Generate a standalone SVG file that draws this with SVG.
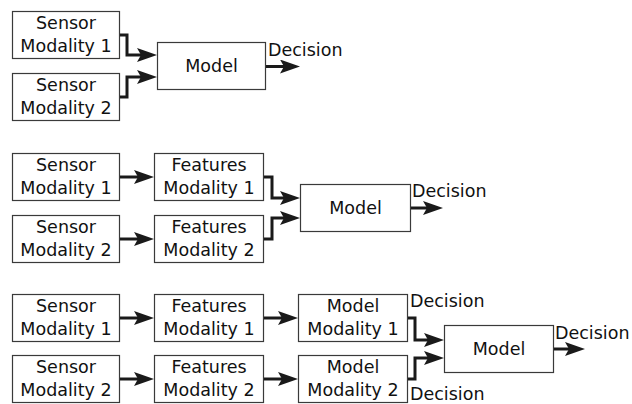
<svg xmlns="http://www.w3.org/2000/svg" width="632" height="404" viewBox="0 0 632 404">
<style>
.box{fill:#fff;stroke:#3a3a3a;stroke-width:1.2}
.t{font-family:"DejaVu Sans",sans-serif;font-size:17.5px;fill:#111;text-anchor:middle}
.lbl{font-family:"DejaVu Sans",sans-serif;font-size:17.5px;fill:#111}
.c{fill:none;stroke:#1a1a1a;stroke-width:3;marker-end:url(#ah)}
</style>
<defs>
<marker id="ah" markerUnits="userSpaceOnUse" viewBox="0 0 20 14" markerWidth="20" markerHeight="14" refX="4" refY="7" orient="auto">
<path d="M0,0 L20,7 L0,14 L4,7 Z" fill="#1a1a1a"/>
</marker>
</defs>
<rect width="632" height="404" fill="#fff"/>
<!-- Section 1 -->
<g id="s1-sensor1"><rect class="box" x="12.5" y="11.5" width="107" height="47"/><text class="t" x="66" y="29">Sensor</text><text class="t" x="66" y="52">Modality 1</text></g>
<g id="s1-sensor2"><rect class="box" x="12.5" y="73.5" width="107" height="47"/><text class="t" x="66" y="91">Sensor</text><text class="t" x="66" y="114">Modality 2</text></g>
<g id="s1-model"><rect class="box" x="157.5" y="42.5" width="108" height="47"/><text class="t" x="211.5" y="72">Model</text></g>
<g id="s1-decision"><text class="lbl" x="268" y="56">Decision</text></g>
<!-- Section 2 -->
<g id="s2-sensor1"><rect class="box" x="12.5" y="153.5" width="107" height="47"/><text class="t" x="66" y="171">Sensor</text><text class="t" x="66" y="194">Modality 1</text></g>
<g id="s2-sensor2"><rect class="box" x="12.5" y="215.5" width="107" height="47"/><text class="t" x="66" y="233">Sensor</text><text class="t" x="66" y="256">Modality 2</text></g>
<g id="s2-features1"><rect class="box" x="154.5" y="153.5" width="109" height="47"/><text class="t" x="209" y="171">Features</text><text class="t" x="209" y="194">Modality 1</text></g>
<g id="s2-features2"><rect class="box" x="154.5" y="215.5" width="109" height="47"/><text class="t" x="209" y="233">Features</text><text class="t" x="209" y="256">Modality 2</text></g>
<g id="s2-model"><rect class="box" x="300.5" y="184.5" width="110" height="47"/><text class="t" x="355.5" y="214">Model</text></g>
<g id="s2-decision"><text class="lbl" x="412" y="197">Decision</text></g>
<!-- Section 3 -->
<g id="s3-sensor1"><rect class="box" x="12.5" y="294.5" width="107" height="47"/><text class="t" x="66" y="312">Sensor</text><text class="t" x="66" y="335">Modality 1</text></g>
<g id="s3-sensor2"><rect class="box" x="12.5" y="355.5" width="107" height="47"/><text class="t" x="66" y="373">Sensor</text><text class="t" x="66" y="396">Modality 2</text></g>
<g id="s3-features1"><rect class="box" x="154.5" y="294.5" width="109" height="47"/><text class="t" x="209" y="312">Features</text><text class="t" x="209" y="335">Modality 1</text></g>
<g id="s3-features2"><rect class="box" x="154.5" y="355.5" width="109" height="47"/><text class="t" x="209" y="373">Features</text><text class="t" x="209" y="396">Modality 2</text></g>
<g id="s3-modelmod1"><rect class="box" x="298.5" y="294.5" width="109" height="47"/><text class="t" x="353" y="312">Model</text><text class="t" x="353" y="335">Modality 1</text></g>
<g id="s3-modelmod2"><rect class="box" x="298.5" y="355.5" width="109" height="47"/><text class="t" x="353" y="373">Model</text><text class="t" x="353" y="396">Modality 2</text></g>
<g id="s3-model"><rect class="box" x="444.5" y="325.5" width="109" height="47"/><text class="t" x="499" y="355">Model</text></g>
<g id="s3-decision1"><text class="lbl" x="410" y="307">Decision</text></g>
<g id="s3-decision2"><text class="lbl" x="410" y="400">Decision</text></g>
<g id="s3-decision"><text class="lbl" x="555" y="339">Decision</text></g>
<!-- Connectors -->
<g id="connectors">
<path class="c" d="M120,35 H127 V55 H141"/>
<path class="c" d="M120,97 H127 V77 H141"/>
<path class="c" d="M266,66.5 H284"/>
<path class="c" d="M120,177 H138"/>
<path class="c" d="M120,239 H138"/>
<path class="c" d="M264,177 H272 V198 H284"/>
<path class="c" d="M264,239 H272 V218 H284"/>
<path class="c" d="M411,208 H427"/>
<path class="c" d="M120,318 H138"/>
<path class="c" d="M120,379 H138"/>
<path class="c" d="M264,318 H282"/>
<path class="c" d="M264,379 H282"/>
<path class="c" d="M408,318 H415 V340 H428"/>
<path class="c" d="M408,379 H415 V358 H428"/>
<path class="c" d="M554,349 H569"/>
</g>
</svg>
